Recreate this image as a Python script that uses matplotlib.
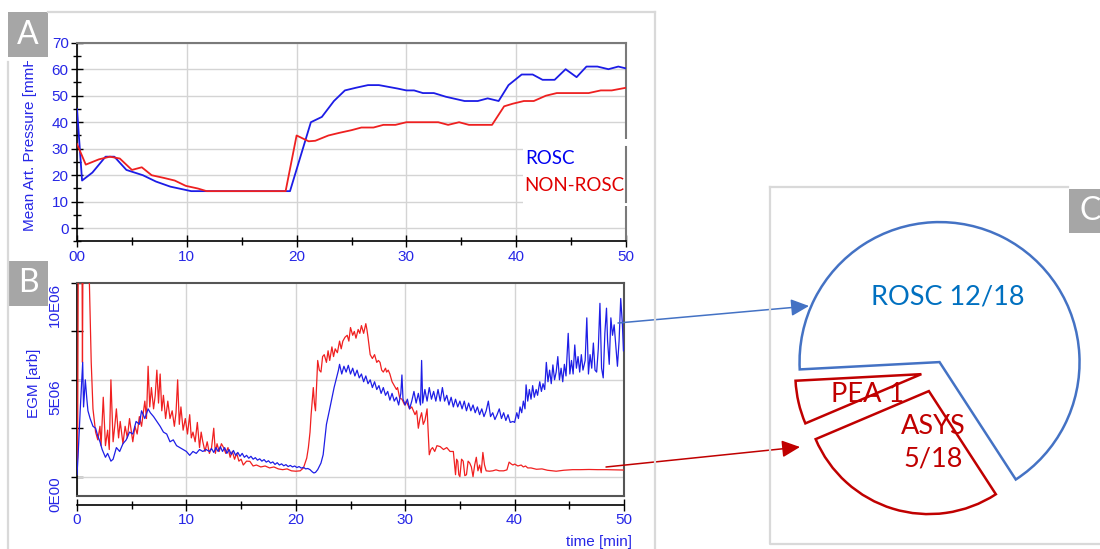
import matplotlib
matplotlib.use('Agg')
import matplotlib.pyplot as plt
from matplotlib.patches import Rectangle, Wedge, FancyArrowPatch
from matplotlib.ticker import MultipleLocator
import numpy as np

# ---- panel A: mean arterial pressure [mmHg] vs time [min] ----
map_t_rosc = [0, 0.46, 1.4, 2.6, 3.4, 4.5, 6.0, 7.2, 8.5, 10.4, 11.8, 19.4, 21.3, 22.3,
              23.4, 24.4, 25.4, 26.5, 27.5, 29.2, 30.0, 30.7, 31.5, 32.5, 33.6, 35.3,
              36.5, 37.4, 38.4, 39.3, 40.5, 41.5, 42.4, 43.5, 44.5, 45.5, 46.4, 47.4,
              48.4, 49.3, 50.0]
map_rosc = [45, 18, 21, 27, 27, 22, 20, 17.6, 15.7, 14, 14, 14, 40, 42,
            48, 52, 53, 54, 54, 52.7, 52, 52, 51, 51, 49.6, 48,
            48, 49, 48, 54, 58, 58, 56, 56, 60, 57, 61, 61,
            60, 61, 60.3]
map_t_non = [0, 0.8, 2.0, 3.0, 3.9, 5.0, 5.9, 6.8, 7.9, 8.9, 9.9, 11.0, 11.8, 19.0,
             20.0, 21.1, 21.7, 22.9, 23.9, 25.0, 25.9, 27.0, 27.9, 29.0, 30.0, 32.9,
             33.8, 34.8, 35.7, 37.8, 38.9, 39.7, 40.7, 41.6, 42.7, 43.7, 45.7, 46.6,
             47.7, 48.7, 50.0]
map_non = [31.8, 24, 26, 27, 26.3, 22, 23, 20, 19, 18, 16, 15, 14, 14,
           35, 32.8, 33, 35, 36, 37, 38, 38, 39, 39, 40, 40,
           39, 40, 39, 39, 46, 47, 48, 48, 50, 51, 51, 51,
           52, 52, 53]
map_ticks = [0, 10, 20, 30, 40, 50]
map_tick_labels = ['00', '10', '20', '30', '40', '50']

# ---- panel B: EGM amplitude [arb, x1E06] vs time [min] ----
egm_t_rosc = [0, 0.1, 0.3, 0.52, 0.6, 0.76, 0.9, 1.0, 1.2, 1.46, 1.7, 1.9, 2.1, 2.3, 2.6,
              2.8, 3.1, 3.3, 3.6, 3.9, 4.2, 4.5, 4.8, 5.1, 5.4, 5.7, 5.9, 6.2, 6.5, 6.7,
              7.0, 7.3, 7.6, 7.9, 8.2, 8.5, 8.8, 9.1, 9.4, 9.7, 10.0, 10.3, 10.6, 10.9,
              11.2, 11.5, 11.8,
              12.1, 12.3, 12.5, 12.7, 12.9, 13.1, 13.3, 13.5, 13.7, 13.9, 14.1, 14.3,
              14.5, 14.7, 14.9, 15.1, 15.3, 15.5, 15.7, 15.9, 16.1, 16.3, 16.5, 16.7,
              16.9, 17.1, 17.3, 17.5, 17.7, 17.9, 18.1, 18.3, 18.5, 18.7, 18.9, 19.1,
              19.3, 19.5, 19.7, 19.9, 20.1, 20.3, 20.5, 20.7, 20.9, 21.1, 21.3, 21.5,
              21.65, 21.8, 22.0, 22.3, 22.5, 22.8, 23.1, 23.5, 23.9,
              24.0, 24.2, 24.4, 24.6, 24.8, 25.0, 25.2, 25.4, 25.6, 25.8, 26.0, 26.2,
              26.4, 26.6, 26.8, 27.0, 27.2, 27.4, 27.6, 27.8, 28.0, 28.2, 28.4, 28.6,
              28.8, 29.0, 29.2, 29.4, 29.6, 29.7, 29.8, 30.0, 30.2, 30.4, 30.6, 30.8,
              31.0, 31.2, 31.4, 31.5, 31.6, 31.8, 32.0, 32.2, 32.4, 32.6, 32.8, 33.0,
              33.2, 33.4, 33.6, 33.8, 34.0, 34.2, 34.4, 34.6, 34.8, 35.0, 35.2, 35.4,
              35.6, 35.8, 36.0, 36.2, 36.4, 36.6, 36.8, 37.0, 37.2, 37.4, 37.6, 37.8,
              38.0, 38.2, 38.4, 38.6, 38.8, 39.0, 39.2, 39.4, 39.6, 39.85,
              40.0, 40.2, 40.35, 40.5, 40.65, 40.8, 40.95, 41.05, 41.2, 41.35, 41.5,
              41.65, 41.8, 41.97, 42.1, 42.3, 42.45, 42.6, 42.75, 42.9, 43.05, 43.2,
              43.35, 43.5, 43.65, 43.8, 43.95, 44.1, 44.25, 44.4, 44.55, 44.7, 44.9,
              45.05, 45.2, 45.35, 45.5, 45.65, 45.8, 45.95, 46.1, 46.25, 46.45, 46.6,
              46.75, 46.9, 47.05, 47.2, 47.35, 47.5, 47.65, 47.8, 47.95, 48.1, 48.25,
              48.4, 48.5, 48.65, 48.8, 48.95, 49.1, 49.25, 49.4, 49.55, 49.7, 49.85,
              49.95]
egm_rosc = [0.1, 1.1, 3.5, 5.9, 3.6, 5.0, 4.0, 3.4, 3.0, 2.6, 2.5, 2.1, 1.8, 1.4, 1.0,
            1.2, 0.8, 0.9, 1.5, 1.3, 1.7, 1.9, 2.3, 2.2, 2.85, 2.7, 3.4, 3.0, 3.5, 3.3,
            3.1, 2.85, 2.6, 2.3, 2.2, 1.8, 1.9, 1.6, 1.5, 1.4, 1.3, 1.1, 1.3, 1.2,
            1.4, 1.3, 1.4,
            1.3, 1.45, 1.25, 1.5, 1.3, 1.55, 1.3, 1.5, 1.2, 1.4, 1.15, 1.35,
            1.1, 1.25, 1.05, 1.2, 1.0, 1.1, 0.95, 1.05, 0.9, 0.98, 0.85, 0.92,
            0.8, 0.88, 0.75, 0.82, 0.7, 0.76, 0.63, 0.72, 0.6, 0.66, 0.56, 0.62,
            0.52, 0.58, 0.5, 0.55, 0.47, 0.52, 0.44, 0.48, 0.4, 0.42, 0.36, 0.25,
            0.19, 0.22, 0.36, 0.7, 1.13, 2.7, 3.5, 4.6, 5.5,
            5.8, 5.3, 5.7, 5.4, 5.75, 5.3, 5.6, 5.2, 5.5, 5.1, 5.3, 4.9,
            5.2, 4.8, 5.0, 4.6, 4.9, 4.5, 4.7, 4.3, 4.6, 4.2, 4.4, 3.95,
            4.3, 3.9, 4.1, 3.7, 4.3, 5.25, 4.0, 3.7, 4.0, 3.5, 3.9, 4.4,
            3.8, 4.3, 3.7, 6.0, 3.8, 4.5, 3.9, 4.6, 4.0, 4.4, 3.9, 4.5,
            3.9, 4.6, 3.9, 4.2, 3.7, 4.1, 3.6, 4.0, 3.6, 3.9, 3.5, 3.9,
            3.4, 3.8, 3.4, 3.7, 3.3, 3.6, 3.2, 3.5, 3.1, 3.4, 3.9, 3.1,
            3.3, 2.95, 3.2, 3.5, 3.0, 3.3, 2.9, 3.2, 2.8, 2.85,
            2.8, 3.3, 3.0, 3.6, 3.3, 3.9, 3.5, 4.74, 3.9, 4.5, 4.0,
            4.7, 4.1, 4.5, 4.2, 4.9, 4.4, 4.8, 4.5, 5.9, 4.9, 5.5,
            4.8, 5.77, 5.0, 5.4, 6.2, 5.0, 5.6, 4.9, 5.8, 5.2, 7.4,
            5.3, 6.0, 5.3, 6.8, 5.6, 6.2, 5.4, 6.3, 5.5, 6.0, 8.2,
            5.3, 6.3, 5.6, 6.9, 5.5, 5.4, 6.6, 8.95, 5.6, 5.1, 7.4,
            8.7, 7.0, 5.8, 8.2, 7.3, 7.84, 6.8, 5.7, 7.0, 9.2, 7.9,
            6.5]

egm_t_non = [0, 0.05, 0.12, 0.45, 0.5, 0.55, 1.05, 1.3, 1.46, 1.7, 1.9, 2.1, 2.2, 2.4,
             2.6, 2.8, 2.95, 3.1, 3.3, 3.45, 3.6, 3.8, 3.95, 4.2, 4.4, 4.6, 4.8, 5.1,
             5.3, 5.5, 5.7, 5.9, 6.2, 6.35, 6.5, 6.65, 6.8, 7.0, 7.15, 7.3, 7.45, 7.6,
             7.75, 7.9, 8.1, 8.3, 8.5, 8.7, 8.9, 9.05, 9.2, 9.35, 9.5, 9.7, 9.9, 10.1,
             10.3, 10.45, 10.6, 10.8, 11.0, 11.2, 11.35, 11.5, 11.7, 11.9, 12.1, 12.3,
             12.5, 12.65, 12.8, 13.0, 13.2, 13.4, 13.6, 13.8, 14.0, 14.2, 14.4, 14.6,
             14.8, 15.0, 15.2, 15.5, 15.8, 16.1, 16.4, 16.8, 17.2, 17.6, 18.0, 18.4,
             18.8, 19.2, 19.6, 20.0, 20.4, 20.7, 21.0, 21.15, 21.3, 21.4, 21.6, 21.7,
             21.8, 22.0, 22.15, 22.3, 22.45, 22.6, 22.8, 22.95, 23.1, 23.3, 23.45, 23.6,
             23.8, 24.0, 24.15, 24.3, 24.5, 24.7, 24.85, 25.0, 25.2, 25.35, 25.5, 25.7,
             25.85, 26.0, 26.2, 26.4, 26.5, 26.6, 26.8, 27.0, 27.2, 27.4, 27.55, 27.7,
             27.85, 28.0, 28.2, 28.3, 28.45, 28.6, 28.8, 29.0, 29.2, 29.3, 29.5, 29.7,
             29.95, 30.1, 30.4, 30.6, 30.9, 31.05, 31.2, 31.35, 31.5, 31.65, 31.8, 32.0,
             32.2, 32.35, 32.5, 32.7, 32.9, 33.2, 33.5, 33.8, 34.1, 34.4, 34.6, 34.7,
             34.8, 34.9, 35.0, 35.15, 35.3, 35.45, 35.6, 35.75, 35.9, 36.05, 36.2, 36.35,
             36.5, 36.65, 36.8, 36.95, 37.1, 37.25, 37.4, 37.7, 38.0, 38.3, 38.6, 39.0,
             39.3, 39.5, 39.7, 39.85, 40.0, 40.3, 40.6, 40.8, 41.0, 41.2, 41.5, 42.0,
             42.5, 43.0, 43.8, 44.5, 45.3, 46.0, 46.8, 47.6, 48.4, 49.2, 50.0]
egm_non = [0.5, 1.0, 12, 12, 5.9, 12, 12, 5.9, 3.5, 2.3, 1.9, 2.6, 1.6, 4.1,
           1.6, 2.4, 1.4, 5.0, 1.8, 2.6, 3.5, 2.0, 2.85, 1.7, 2.6, 2.0, 3.0, 1.8,
           2.6, 2.2, 3.1, 2.6, 3.9, 3.0, 5.7, 3.6, 4.6, 3.5, 4.2, 5.5, 3.8, 5.3,
           3.4, 4.2, 3.0, 3.9, 3.0, 3.4, 2.6, 3.3, 5.0, 2.7, 3.6, 2.4, 3.0, 2.2,
           3.2, 2.0, 2.3, 1.8, 2.8, 1.5, 2.3, 1.8, 1.3, 1.8, 1.2, 1.5,
           2.5, 1.2, 1.7, 1.3, 1.7, 1.5, 1.2, 1.5, 1.0, 1.3, 0.9, 1.2,
           0.8, 0.9, 0.6, 0.8, 0.79, 0.55, 0.6, 0.5, 0.55, 0.45, 0.5, 0.4,
           0.36, 0.4, 0.3, 0.28, 0.3, 0.45, 0.96, 1.5, 2.3, 3.2, 4.6, 3.8,
           3.4, 6.0, 5.5, 5.4, 6.2, 6.3, 5.9, 6.5, 6.0, 6.7, 6.2, 6.6,
           6.4, 7.0, 6.6, 7.0, 7.2, 7.3, 7.0, 7.7, 7.3, 7.5, 7.15, 7.6,
           7.4, 7.8, 7.4, 7.9, 7.6, 7.2, 6.3, 6.1, 6.3, 5.9, 6.0, 5.9,
           5.5, 5.4, 5.6, 5.4, 5.5, 5.3, 4.9, 4.7, 4.5, 4.6, 4.06, 4.0,
           3.7, 3.9, 3.5, 3.6, 3.2, 3.4, 2.5, 3.0, 3.3, 2.7, 2.9, 3.5,
           1.13, 1.4, 1.5, 1.3, 1.6, 1.55, 1.4, 1.5, 1.3, 1.3, 0.1, 0.9,
           0.8, 0.1, 0.0, 0.9, 0.8, 0.05, 0.1, 0.8, 0.7, 0.5, 0.0, 0.6,
           1.0, 0.3, 0.6, 0.2, 1.25, 0.6, 0.3, 0.28, 0.3, 0.35, 0.3, 0.3,
           0.35, 0.75, 0.65, 0.6, 0.65, 0.55, 0.6, 0.5, 0.55, 0.45, 0.45, 0.38,
           0.4, 0.33, 0.28, 0.33, 0.36, 0.36, 0.37, 0.36, 0.36, 0.35, 0.34]
egm_ticks = [0, 5, 10]
egm_tick_labels = ['0E00', '5E06', '10E06']
time_ticks = [0, 10, 20, 30, 40, 50]

# ---- panel C: outcome of resuscitation ----
outcome_names = ['ROSC', 'PEA', 'ASYS']
outcome_counts = [12, 1, 5]

W, H = 1100, 549
BLUE_TXT = '#2626E6'
plt.rcParams['font.family'] = ['Liberation Sans', 'DejaVu Sans']

fig = plt.figure(figsize=(W / 100, H / 100), dpi=100)


def box(left, top, right, bottom):
    # pixel box (from top-left) -> figure fraction rect
    return [left / W, 1 - bottom / H, (right - left) / W, (bottom - top) / H]


# overlay in pixel units (y upwards) for frames, labels, arrows and the pie
ov = fig.add_axes([0, 0, 1, 1], zorder=5)
ov.set_xlim(0, W)
ov.set_ylim(0, H)
ov.axis('off')
ov.patch.set_alpha(0)

# ================= panel A =================
ax_a = fig.add_axes(box(77, 42.7, 626, 241.5))
ax_a.plot(map_t_rosc, map_rosc, color='#1C1CE6', lw=1.3, zorder=3)
ax_a.plot(map_t_non, map_non, color='#EE2020', lw=1.3, zorder=3)
ax_a.set_xlim(0, 50)
ax_a.set_ylim(-5, 70)
ax_a.set_xticks(map_ticks)
ax_a.set_xticklabels(map_tick_labels)
ax_a.set_yticks(range(0, 71, 10))
ax_a.xaxis.set_minor_locator(MultipleLocator(5))
ax_a.yaxis.set_minor_locator(MultipleLocator(5))
ax_a.tick_params(which='major', direction='inout', length=8, width=1,
                 labelcolor=BLUE_TXT, labelsize=11, pad=2)
ax_a.tick_params(which='minor', direction='inout', length=6, width=1)
ax_a.grid(True, which='major', color='#D4D4D4', lw=1)
ax_a.set_axisbelow(True)
for s in ['top', 'right']:
    ax_a.spines[s].set_color('#7A7A7A')
    ax_a.spines[s].set_linewidth(1.5)
for s in ['left', 'bottom']:
    ax_a.spines[s].set_linewidth(1.2)

# legend box
ax_a.add_patch(Rectangle((40.6, 8.3), 10.2, 25.2, facecolor='white',
                         edgecolor='none', zorder=2.6, clip_on=False))
ax_a.plot([50, 50], [10, 30.7], color='#7A7A7A', lw=1.5, zorder=2.7, clip_on=False)
ax_a.text(40.8, 26.5, 'ROSC', color='#0000F0', fontsize=13.5, family='Lato',
          va='center', ha='left', zorder=3)
ax_a.text(40.7, 16.0, 'NON-ROSC', color='#E00000', fontsize=13.5, family='Lato',
          va='center', ha='left', zorder=3)

# y label, cut off at the top as in the original screenshot
ylab = fig.text(30 / W, 1 - 231 / H, 'Mean Art. Pressure [mmH', rotation=90,
                ha='center', va='bottom', color=BLUE_TXT, fontsize=11)
ylab.set_clip_box(ov.bbox.frozen().from_extents(0, 0, W, H - 61))
ylab.set_clip_on(True)

# ================= panel B =================
ax_b = fig.add_axes(box(77, 283, 624, 496))
ax_b.plot(egm_t_non, egm_non, color='#F02020', lw=0.9, zorder=3)
ax_b.plot(egm_t_rosc, egm_rosc, color='#1E1EE6', lw=0.9, zorder=3)
ax_b.set_xlim(0, 50)
ax_b.set_ylim(-1, 10)
ax_b.set_xticks(time_ticks)
ax_b.xaxis.set_minor_locator(MultipleLocator(5))
ax_b.set_yticks([0, 2.5, 5, 7.5, 10])
ax_b.set_yticklabels([])
ax_b.tick_params(which='major', direction='inout', length=8, width=1,
                 labelcolor=BLUE_TXT, labelsize=11, pad=2)
ax_b.tick_params(which='minor', direction='inout', length=6, width=1)
ax_b.grid(True, axis='x', color='#D4D4D4', lw=1)
for v in [0, 5]:
    ax_b.axhline(v, color='#D4D4D4', lw=1, zorder=1)
ax_b.set_axisbelow(True)
ax_b.spines['bottom'].set_position(('outward', 6.5))
ax_b.spines['bottom'].set_linewidth(1.2)
ax_b.spines['left'].set_linewidth(1.2)
for s in ['top', 'right']:
    ax_b.spines[s].set_color('#555555')
    ax_b.spines[s].set_linewidth(1.5)
ax_b.plot([0, 1], [0, 0], transform=ax_b.transAxes, color='#555555', lw=1.5,
          clip_on=False, zorder=4)
for v, lab in zip(egm_ticks, egm_tick_labels):
    ax_b.text(-0.040, v, lab, rotation=90, ha='center', va='top', color=BLUE_TXT,
              fontsize=11, transform=ax_b.get_yaxis_transform())

fig.text(34 / W, 1 - 383 / H, 'EGM [arb]', rotation=90, ha='center', va='center',
         color=BLUE_TXT, fontsize=11)
fig.text(632 / W, 1 - 542 / H, 'time [min]', ha='right', va='center',
         color=BLUE_TXT, fontsize=11)


# ================= frames / panel labels =================
def Y(py):
    return H - py


FRAME = '#D9D9D9'
ov.plot([8, 8], [Y(62), Y(549)], color=FRAME, lw=1.6)
ov.plot([48, 655], [Y(12), Y(12)], color=FRAME, lw=1.6)
ov.plot([655, 655], [Y(12), Y(549)], color=FRAME, lw=1.6)
ov.plot([770, 770, 1100], [Y(187), Y(544), Y(544)], color=FRAME, lw=1.6)
ov.plot([770, 1068], [Y(187), Y(187)], color=FRAME, lw=1.6)

for letter, (l, t, r, b), tx in [('A', (8, 12, 48, 57), 28), ('B', (8, 261, 48, 306), 28),
                                 ('C', (1069, 189, 1100, 233), 1090)]:
    ov.add_patch(Rectangle((l, Y(b)), r - l, b - t, facecolor='#A6A6A6', edgecolor='none'))
    ov.text(tx, Y((t + b) / 2), letter, color='white', fontsize=23, family='Lato',
            ha='center', va='center')

# ================= panel C: exploded pie =================
PIE_EDGE = ['#4472C4', '#C00000', '#C00000']
radii = [140, 126, 123]
explode = [10, 14, 21]
cx, cy = 935, 178
theta = -57.0
total = sum(outcome_counts)
for n, cnt, r, e, col in zip(outcome_names, outcome_counts, radii, explode, PIE_EDGE):
    span = cnt / total * 360.0
    mid = np.deg2rad(theta + span / 2)
    w = Wedge((cx + e * np.cos(mid), cy + e * np.sin(mid)), r, theta, theta + span,
              facecolor='white', edgecolor=col, lw=1.8, joinstyle='miter')
    ov.add_patch(w)
    theta += span

PIE_TXT = {'ROSC': '#0070C0', 'PEA': '#C00000', 'ASYS': '#C00000'}
ov.text(948, Y(297), f'ROSC {outcome_counts[0]}/{total}', color=PIE_TXT['ROSC'],
        fontsize=19.5, family='Lato', ha='center', va='center')
ov.text(868, Y(395), f'PEA {outcome_counts[1]}', color=PIE_TXT['PEA'],
        fontsize=19.5, family='Lato', ha='center', va='center')
ov.text(933, Y(443), f'ASYS\n{outcome_counts[2]}/{total}', color=PIE_TXT['ASYS'],
        fontsize=19.5, family='Lato', ha='center', va='center', linespacing=1.4)

# arrows from EGM traces to pie
ov.add_patch(FancyArrowPatch((618, Y(323)), (809, Y(306)),
                             arrowstyle='-|>,head_length=0.55,head_width=0.26',
                             mutation_scale=20, color='#4472C4', lw=1.1,
                             shrinkA=0, shrinkB=0))
ov.add_patch(FancyArrowPatch((606, Y(467)), (800, Y(447)),
                             arrowstyle='-|>,head_length=0.55,head_width=0.26',
                             mutation_scale=20, color='#C00000', lw=1.1,
                             shrinkA=0, shrinkB=0))

fig.savefig('out.png', dpi=100)
